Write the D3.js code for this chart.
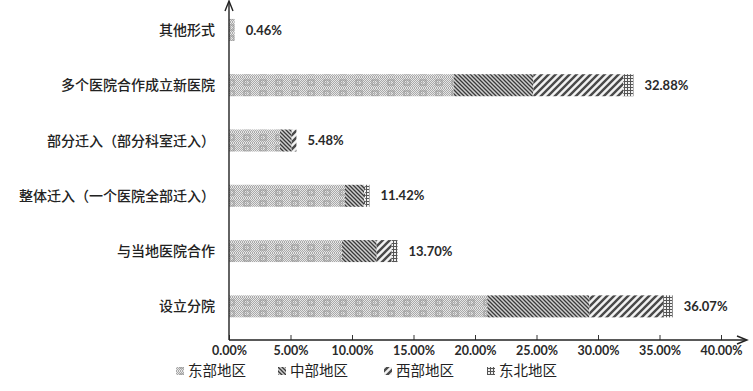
<!DOCTYPE html>
<html><head><meta charset="utf-8">
<script src="https://cdn.jsdelivr.net/npm/d3@7/dist/d3.min.js"></script>
<style>
html,body{margin:0;padding:0;background:#fff;}
svg{display:block;}
</style></head>
<body>
<svg id="chart" width="753" height="391"></svg>
<script>
const categories = ["设立分院","与当地医院合作","整体迁入（一个医院全部迁入）","部分迁入（部分科室迁入）","多个医院合作成立新医院","其他形式"];
const seriesNames = ["东部地区","中部地区","西部地区","东北地区"];
const east      = [21.00, 9.19, 9.43, 4.15, 18.26, 0.46];
const central   = [ 8.30, 2.82, 1.55, 0.95,  6.48, 0.00];
const west      = [ 6.00, 1.22, 0.10, 0.38,  7.32, 0.00];
const northeast = [ 0.77, 0.47, 0.34, 0.00,  0.82, 0.00];
const totalLabels = ["36.07%","13.70%","11.42%","5.48%","32.88%","0.46%"];
const xTicks = [0,5,10,15,20,25,30,35,40];
const xTickLabels = ["0.00%","5.00%","10.00%","15.00%","20.00%","25.00%","30.00%","35.00%","40.00%"];

const svg = d3.select("#chart");
const defs = svg.append("defs");

function pat(id, w, h, draw){
  const p = defs.append("pattern").attr("id", id).attr("patternUnits","userSpaceOnUse")
    .attr("width", w).attr("height", h);
  draw(p);
}
pat("pEast", 16, 11, p => {
  p.append("rect").attr("width",16).attr("height",11).attr("fill","#e6e6e6");
  for (let yy=0;yy<11;yy++) for (let xx=0;xx<16;xx++) if ((xx+yy)%2===0)
    p.append("rect").attr("x",xx).attr("y",yy).attr("width",1).attr("height",1).attr("fill","#a9a9a9");
  p.append("rect").attr("x",4).attr("y",3).attr("width",6).attr("height",5).attr("fill","none").attr("stroke","#9a9a9a").attr("stroke-width",1);
  p.append("rect").attr("x",6).attr("y",5).attr("width",2).attr("height",1).attr("fill","#bdbdbd");
});
pat("pCentral", 4, 4, p => {
  p.append("rect").attr("width",4).attr("height",4).attr("fill","#cfcfcf");
  p.append("path").attr("d","M-1,-1 L5,5 M-1,3 L1,5 M3,-1 L5,1").attr("stroke","#3a3a3a").attr("stroke-width",1.3);
});
pat("pWest", 7, 7, p => {
  p.append("rect").attr("width",7).attr("height",7).attr("fill","#f2f2f2");
  p.append("path").attr("d","M-1,8 L8,-1 M-2,2 L2,-2 M5,9 L9,5").attr("stroke","#4a4a4a").attr("stroke-width",2.4);
});
pat("pNE", 3, 3, p => {
  p.append("rect").attr("width",3).attr("height",3).attr("fill","#555");
  p.append("rect").attr("x",1).attr("y",1).attr("width",2).attr("height",2).attr("fill","#f0f0f0");
});
const patIds = ["pEast","pCentral","pWest","pNE"];

const x = d3.scaleLinear().domain([0,40]).range([229, 721]);
const y = d3.scaleBand().domain(categories).range([334, 2.3]).paddingInner(0.6).paddingOuter(0.3);

const rows = categories.map((c,i)=>({cat:c, "东部地区":east[i], "中部地区":central[i], "西部地区":west[i], "东北地区":northeast[i]}));
const stack = d3.stack().keys(seriesNames)(rows);

const bh = 22;
stack.forEach((layer, li) => {
  svg.append("g").selectAll("rect").data(layer).join("rect")
    .attr("x", d => x(d[0]))
    .attr("y", d => y(d.data.cat) + y.bandwidth()/2 - bh/2)
    .attr("width", d => Math.max(0, x(d[1]) - x(d[0])))
    .attr("height", bh)
    .attr("fill", `url(#${patIds[li]})`);
});

svg.append("g").selectAll("text").data(rows).join("text")
  .attr("x", (d,i) => x(east[i]+central[i]+west[i]+northeast[i]) + 11)
  .attr("y", d => y(d.cat) + y.bandwidth()/2)
  .attr("dy","0.36em")
  .attr("font-family","Lato, 'Open Sans', sans-serif")
  .attr("font-weight","bold").attr("font-size","13px").attr("fill","#2a2a2a")
  .text((d,i) => totalLabels[i]);

svg.append("g").selectAll("text").data(categories).join("text")
  .attr("x", 215).attr("y", d => y(d) + y.bandwidth()/2)
  .attr("dy","0.36em").attr("text-anchor","end")
  .attr("font-family","'Noto Sans CJK SC', sans-serif")
  .attr("font-size","14px").attr("font-weight","500").attr("fill","#222")
  .text(d => d);

const axisY = 340;
const xAxis = d3.axisBottom(x).tickValues(xTicks).tickFormat((d,i)=>xTickLabels[i]).tickSize(0).tickPadding(6);
const gx = svg.append("g").attr("transform",`translate(0,${axisY})`).call(xAxis);
gx.select(".domain").remove();
gx.selectAll("text").attr("font-family","Lato, 'Open Sans', sans-serif").attr("font-weight","bold").attr("font-size","12.5px").attr("fill","#2a2a2a");
gx.selectAll(".tick").append("line").attr("y1",0).attr("y2",-5).attr("stroke","#333").attr("stroke-width",1);

svg.append("line").attr("x1", x(0)).attr("x2", 746).attr("y1", axisY).attr("y2", axisY).attr("stroke","#222").attr("stroke-width",1.4);
svg.append("path").attr("d", `M737,${axisY-4} L747,${axisY} L737,${axisY+4}`).attr("fill","none").attr("stroke","#222").attr("stroke-width",1.4);
svg.append("line").attr("x1", x(0)).attr("x2", x(0)).attr("y1", axisY).attr("y2", 2).attr("stroke","#222").attr("stroke-width",1.4);
svg.append("path").attr("d", `M${x(0)-4},11 L${x(0)},1 L${x(0)+4},11`).attr("fill","none").attr("stroke","#222").attr("stroke-width",1.4);

const legendX = [176, 278, 384, 487];
const lg = svg.append("g").selectAll("g").data(seriesNames).join("g")
  .attr("transform",(d,i)=>`translate(${legendX[i]},371)`);
lg.append("rect").attr("x",0).attr("y",-4).attr("width",8).attr("height",8).attr("fill",(d,i)=>`url(#${patIds[i]})`);
lg.append("text").attr("x",12).attr("y",0).attr("dy","0.36em")
  .attr("font-family","'Noto Sans CJK SC', sans-serif").attr("font-size","14.5px").attr("fill","#222")
  .text(d=>d);
</script>
</body></html>
